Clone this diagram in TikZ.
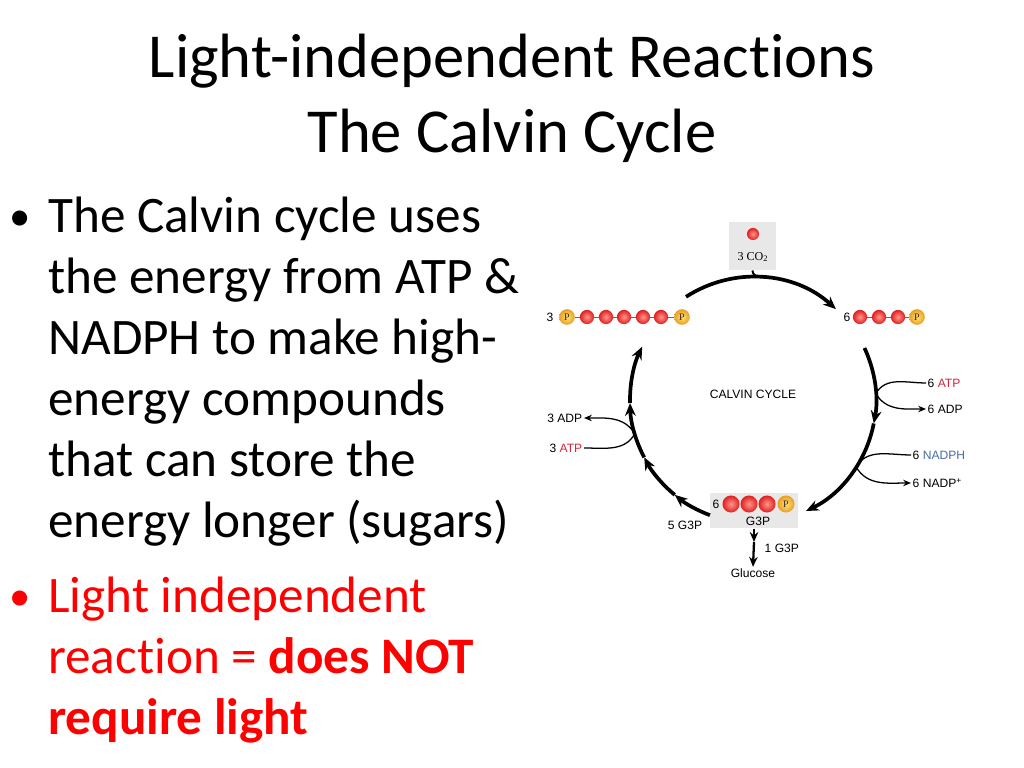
\documentclass[tikz,border=0pt]{standalone}
\usepackage{fontspec}
\setmainfont{Carlito}[Ligatures = NoCommon]
\newfontfamily\labelfont{Liberation Sans}
\newfontfamily\molfont{Liberation Serif}
\usetikzlibrary{arrows.meta}

\definecolor{atpred}{RGB}{212,36,62}
\definecolor{nadphblue}{RGB}{72,108,165}
\definecolor{boxgray}{RGB}{232,232,232}
\definecolor{pinner}{RGB}{255,228,120}
\definecolor{pouter}{RGB}{232,158,34}
\definecolor{redinner}{RGB}{255,150,140}
\definecolor{redouter}{RGB}{222,32,32}

\begin{document}
\begin{tikzpicture}[x = 0.703125pt, y = 0.703125pt]
\tikzstyle{title}=[
anchor = base,
inner sep = 0pt,
font = \fontsize{44}{53}\selectfont]
\tikzstyle{body}=[
anchor = base west,
inner sep = 0pt,
font = \fontsize{36}{43}\selectfont]
\tikzstyle{bulletmark}=[
anchor = base,
inner sep = 0pt,
font = \fontsize{30}{36}\selectfont]
\tikzstyle{lbl}=[
inner sep = 1pt,
font = \labelfont\fontsize{8.5}{10}\selectfont]
\tikzstyle{graybox}=[
rectangle,
fill = boxgray,
inner sep = 0pt]
\tikzstyle{redball}=[
circle,
shading = radial,
inner color = redinner,
outer color = redouter,
minimum size = 10pt,
inner sep = 0pt]
\tikzstyle{pball}=[
circle,
shading = radial,
inner color = pinner,
outer color = pouter,
minimum size = 11pt,
inner sep = 0pt,
font = \molfont\fontsize{7}{7}\selectfont,
text = black!70!brown]
\tikzstyle{bond}=[
line width = 0.6pt,
draw = black!60]
\tikzstyle{cyclearrow}=[
line width = 2.6pt,
-{Stealth[length = 9pt, width = 7.5pt]}]
\tikzstyle{hook}=[
line width = 0.9pt]
\tikzstyle{hookarrow}=[
line width = 0.9pt,
-{Stealth[length = 5.5pt, width = 4.5pt]}]
\tikzstyle{downarrow}=[
line width = 1.6pt,
-{Stealth[length = 7pt, width = 6pt]}]
\useasboundingbox (0,0) rectangle (1024,768);

% title
\node[title] (head1) at (512,690) {Light-independent Reactions};
\node[title] (head2) at (512,615) {The Calvin Cycle};

% bullet text
\node[bulletmark] (dot1) at (20,537) {•};
\foreach \txt [count = \i] in {The Calvin cycle uses, the energy from ATP \&,
  NADPH to make high-, energy compounds, that can store the,
  energy longer (sugars)}
  \node[body] (line\i) at (48,{596-61*\i}) {\txt};
\node[bulletmark, text = red] (dot2) at (20,157) {•};
\node[body, text = red] (red1) at (48,155) {Light independent};
\node[body, text = red] (red2) at (48,94) {reaction = \textbf{does NOT}};
\node[body, text = red] (red3) at (48,33) {\textbf{require light}};

% calvin cycle
\coordinate (c) at (753,368);
\node[lbl] (calvin) at (753,374) {CALVIN CYCLE};

\node[graybox, minimum width = 33pt, minimum height = 34pt] (co2box) at (752.5,522) {};
\node[redball, minimum size = 8.5pt] (co2ball) at (753,534) {};
\node[lbl, font = \molfont\fontsize{8.5}{10}\selectfont] (co2) at (753,511) {3 CO\textsubscript{2}};

\node[lbl] (n3) at (550,451) {3};
\node[pball] (lp1) at (567,451) {P};
\foreach \x [count = \i] in {587,606,624,643,661}
  \node[redball] (lb\i) at (\x,451) {};
\node[pball] (lp2) at (682,451) {P};
\draw[bond] (lp1) -- (lb1) -- (lb2) -- (lb3) -- (lb4) -- (lb5) -- (lp2);

\node[lbl] (n6) at (847,451) {6};
\foreach \x [count = \i] in {860,879,898}
  \node[redball] (rb\i) at (\x,451) {};
\node[pball] (rp) at (917,451) {P};
\draw[bond] (rb1) -- (rb2) -- (rb3) -- (rp);

\node[graybox, minimum width = 62pt, minimum height = 25pt] (g3pbox) at (754,257.5) {};
\node[lbl] (g6) at (716,264) {6};
\foreach \x [count = \i] in {731,749,767}
  \node[redball, minimum size = 12pt] (gb\i) at (\x,264) {};
\node[pball, minimum size = 12pt] (gp) at (786,264) {P};
\node[lbl] (g3p) at (758,247) {G3P};
\node[lbl] (g5) at (685,243) {5 G3P};
\node[lbl, anchor = west] (g1) at (763,220) {1 G3P};
\node[lbl] (glu) at (753,195) {Glucose};
\coordinate (gmid) at (754,226);
\draw[downarrow] (g3pbox.south) -- (gmid);
\draw[downarrow] (gmid) -- (glu.north);

% arcs of the cycle
\draw[cyclearrow] (c) ++(123:123) arc[start angle = 123, end angle = 47.6, radius = 123];
\path (c) ++(82:123) coordinate (j1);
\draw[line width = 1.4pt] (co2box.south) to[out = -90, in = 170] (j1);
\draw[cyclearrow] (c) ++(25:123) arc[start angle = 25, end angle = -11, radius = 123];
\draw[cyclearrow] (c) ++(-11:123) arc[start angle = -11, end angle = -64.5, radius = 123];
\foreach \a/\b in {249.5/230.5, 230.5/207.8, 207.8/181.4, 181.4/154.3}
  \draw[cyclearrow] (c) ++(\a:123) arc[start angle = \a, end angle = \b, radius = 123];

% side reactions
\path (c) ++(3:123) coordinate (h1);
\path (c) ++(-33:123) coordinate (h2);
\path (c) ++(196:123) coordinate (h3);
\node[lbl, anchor = west] (atp6) at (926,385) {6 \textcolor{atpred}{ATP}};
\node[lbl, anchor = west] (adp6) at (926,359) {6 ADP};
\node[lbl, anchor = west] (nadph) at (911,313) {6 \textcolor{nadphblue}{NADPH}};
\node[lbl, anchor = west] (nadp) at (911,285) {6 NADP\textsuperscript{+}};
\node[lbl, anchor = east] (adp3) at (584,350) {3 ADP};
\node[lbl, anchor = east] (atp3) at (584,320) {3 \textcolor{atpred}{ATP}};
\draw[hook] (atp6.west) to[out = 180, in = 60] (h1);
\draw[hookarrow] (h1) to[out = -60, in = 180] (adp6.west);
\draw[hook] (nadph.west) to[out = 180, in = 60] (h2);
\draw[hookarrow] (h2) to[out = -60, in = 180] (nadp.west);
\draw[hook] (atp3.east) to[out = 0, in = -120] (h3);
\draw[hookarrow] (h3) to[out = 120, in = 0] (adp3.east);
\end{tikzpicture}
\end{document}
